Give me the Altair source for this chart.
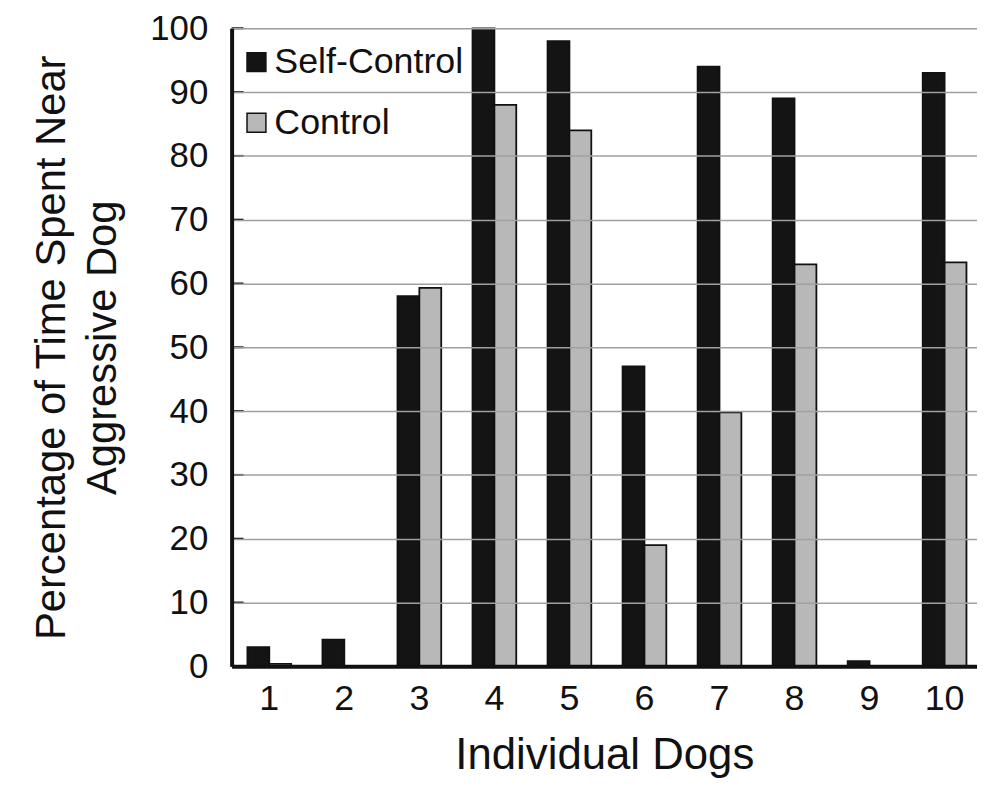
import altair as alt
import pandas as pd

dogs = [str(i) for i in range(1, 11)]
self_control = [3.0, 4.2, 58.0, 100.0, 98.0, 47.0, 94.0, 89.0, 0.8, 93.0]
control = [0.4, 0.0, 59.3, 88.0, 84.0, 19.0, 39.8, 63.0, 0.0, 63.3]
groups = ["Self-Control", "Control"]
colors = ["#141414", "#b8b8b8"]
y_ticks = list(range(0, 101, 10))

rows = []
for d, s, c in zip(dogs, self_control, control):
    rows.append({"dog": d, "group": groups[0], "value": s})
    rows.append({"dog": d, "group": groups[1], "value": c})
df = pd.DataFrame(rows)
ticks_df = pd.DataFrame({"t": y_ticks})

FONT = "Liberation Sans"

y_scale = alt.Scale(domain=[0, 100], nice=False)

bars = alt.Chart(df).transform_filter(
    alt.datum.value > 0
).mark_bar(stroke="#111111", strokeWidth=1.8).encode(
    x=alt.X(
        "dog:N",
        sort=dogs,
        scale=alt.Scale(domain=dogs, paddingInner=0.417, paddingOuter=0.1755, align=0.6),
        axis=alt.Axis(
            title="Individual Dogs",
            labelAngle=0,
            labelFont=FONT,
            labelFontSize=36,
            labelColor="#111111",
            labelPadding=15,
            ticks=False,
            domainColor="#111111",
            domainWidth=4,
            titleFont=FONT,
            titleFontSize=44,
            titleFontWeight="normal",
            titleColor="#111111",
            titlePadding=18,
            zindex=1,
        ),
    ),
    xOffset=alt.XOffset("group:N", sort=groups, scale=alt.Scale(domain=groups)),
    y=alt.Y(
        "value:Q",
        scale=y_scale,
        axis=alt.Axis(
            title=["Percentage of Time Spent Near", "Aggressive Dog"],
            values=y_ticks,
            labelFont=FONT,
            labelFontSize=35,
            labelColor="#111111",
            labelPadding=24,
            ticks=False,
            domainColor="#111111",
            domainWidth=4,
            grid=True,
            gridColor="#a0a0a0",
            gridWidth=1.5,
            titleFont=FONT,
            titleFontSize=42,
            titleFontWeight="normal",
            titleColor="#111111",
            titleLineHeight=52,
            titlePadding=25,
            zindex=1,
        ),
    ),
    color=alt.Color(
        "group:N",
        sort=groups,
        scale=alt.Scale(domain=groups, range=colors),
        legend=alt.Legend(
            title=None,
            orient="none",
            legendX=7,
            legendY=16,
            direction="vertical",
            symbolType="square",
            symbolSize=361,
            symbolStrokeColor="#111111",
            symbolStrokeWidth=1.5,
            symbolOpacity=1,
            labelFont=FONT,
            labelFontSize=36,
            labelColor="#111111",
            labelOffset=0,
            labelLimit=0,
            rowPadding=25,
        ),
    ),
)

stubs = alt.Chart(ticks_df).mark_rule(color="#111111", strokeWidth=2).encode(
    y=alt.Y("t:Q", scale=y_scale),
    x=alt.value(0),
    x2=alt.value(12),
)

chart = alt.layer(bars, stubs).properties(
    width=750,
    height=642,
    autosize=alt.AutoSizeParams(type="none"),
    padding={"left": 225, "top": 18, "right": 0, "bottom": 118},
).configure_view(stroke=None).configure(background="white")

chart.save("out.html", embed_options={"renderer": "svg", "actions": False})
